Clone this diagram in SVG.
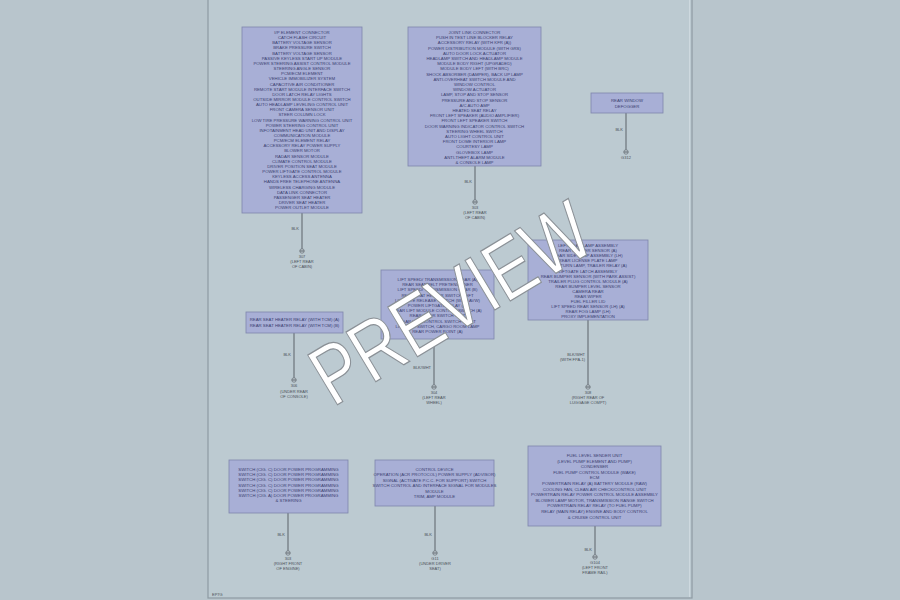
<svg xmlns="http://www.w3.org/2000/svg" width="900" height="600" viewBox="0 0 900 600">
<style>
.box{fill:#a8afd6;stroke:#7e86ad;stroke-width:0.8}
.t{font-family:"Liberation Sans",Arial,sans-serif;font-size:4.3px;fill:#3a4070;text-anchor:middle}
.l{font-family:"Liberation Sans",Arial,sans-serif;font-size:4px;fill:#4a5058;text-anchor:middle}
.lr{font-family:"Liberation Sans",Arial,sans-serif;font-size:4px;fill:#4a5058;text-anchor:end}
.w{stroke:#6c737b;stroke-width:1.2;fill:none}
.term{fill:#c4d0d6;stroke:#6c737b;stroke-width:0.8}
.wm{font-family:"Liberation Sans",Arial,sans-serif;font-size:84px;fill:#ffffff;stroke:#8a9096;stroke-width:1.2;text-anchor:middle}
</style>
<defs>
<g id="tm"><circle class="term" cx="0" cy="0" r="2.2"/><line class="w" x1="-2.2" y1="0" x2="2.2" y2="0" stroke-width="0.6"/></g>
</defs>
<rect x="0" y="0" width="900" height="600" fill="#b8c5cc"/>
<rect x="208" y="-2" width="484" height="600" fill="#bccad1" stroke="#8e9aa2" stroke-width="1.2"/>
<line x1="689.5" y1="0" x2="689.5" y2="597" stroke="#d3dde2" stroke-width="0.8"/>
<text x="212" y="596" class="l" style="text-anchor:start">EP7G</text>

<g id="connectors">
<line class="w" x1="302" y1="213" x2="302" y2="249"/>
<line class="w" x1="475" y1="166" x2="475" y2="200"/>
<line class="w" x1="626" y1="113" x2="626" y2="150"/>
<line class="w" x1="294" y1="333" x2="294" y2="378"/>
<line class="w" x1="434" y1="339" x2="434" y2="385"/>
<line class="w" x1="588" y1="320" x2="588" y2="385"/>
<line class="w" x1="288" y1="513" x2="288" y2="551"/>
<line class="w" x1="435" y1="506" x2="435" y2="551"/>
<line class="w" x1="595" y1="526" x2="595" y2="555"/>
<text class="lr" x="299" y="230">BLK</text>
<text class="lr" x="472" y="183">BLK</text>
<text class="lr" x="623" y="131">BLK</text>
<text class="lr" x="291" y="356">BLK</text>
<text class="lr" x="431" y="369">BLK/WHT</text>
<text class="lr" x="585" y="356">BLK/WHT</text>
<text class="lr" x="585" y="361">(WITH FPA-1)</text>
<text class="lr" x="285" y="536">BLK</text>
<text class="lr" x="432" y="536">BLK</text>
<text class="lr" x="592" y="551">BLK</text>
</g>

<g id="nodeA">
<rect class="box" x="242" y="27" width="120" height="186"/>
<text class="t" x="302" y="34">I/P ELEMENT CONNECTOR</text>
<text class="t" x="302" y="39.1">CATCH FLASH CIRCUIT</text>
<text class="t" x="302" y="44.3">BATTERY VOLTAGE SENSOR</text>
<text class="t" x="302" y="49.4">BRAKE PRESSURE SWITCH</text>
<text class="t" x="302" y="54.6">BATTERY VOLTAGE SENSOR</text>
<text class="t" x="302" y="59.7">PASSIVE KEYLESS START UP MODULE</text>
<text class="t" x="302" y="64.9">POWER STEERING ASSIST CONTROL MODULE</text>
<text class="t" x="302" y="70">STEERING ANGLE SENSOR</text>
<text class="t" x="302" y="75.2">PCM/ECM ELEMENT</text>
<text class="t" x="302" y="80.3">VEHICLE IMMOBILIZER SYSTEM</text>
<text class="t" x="302" y="85.5">CAPACITIVE AIR CONDITIONER</text>
<text class="t" x="302" y="90.6">REMOTE START MODULE INTERFACE SWITCH</text>
<text class="t" x="302" y="95.8">DOOR LATCH RELAY LIGHTS</text>
<text class="t" x="302" y="100.9">OUTSIDE MIRROR MODULE CONTROL SWITCH</text>
<text class="t" x="302" y="106.1">AUTO HEADLAMP LEVELING CONTROL UNIT</text>
<text class="t" x="302" y="111.2">FRONT CAMERA SENSOR UNIT</text>
<text class="t" x="302" y="116.4">STEER COLUMN LOCK</text>
<text class="t" x="302" y="121.5">LOW TIRE PRESSURE WARNING CONTROL UNIT</text>
<text class="t" x="302" y="126.7">POWER STEERING CONTROL UNIT</text>
<text class="t" x="302" y="131.8">INFOTAINMENT HEAD UNIT AND DISPLAY</text>
<text class="t" x="302" y="137">COMMUNICATION MODULE</text>
<text class="t" x="302" y="142.1">PCM/ECM ELEMENT RELAY</text>
<text class="t" x="302" y="147.3">ACCESSORY RELAY POWER SUPPLY</text>
<text class="t" x="302" y="152.4">BLOWER MOTOR</text>
<text class="t" x="302" y="157.6">RADAR SENSOR MODULE</text>
<text class="t" x="302" y="162.7">CLIMATE CONTROL MODULE</text>
<text class="t" x="302" y="167.9">DRIVER POSITION SEAT MODULE</text>
<text class="t" x="302" y="173">POWER LIFTGATE CONTROL MODULE</text>
<text class="t" x="302" y="178.2">KEYLESS ACCESS ANTENNA</text>
<text class="t" x="302" y="183.3">HANDS FREE TELEPHONE ANTENNA</text>
<text class="t" x="302" y="188.5">WIRELESS CHARGING MODULE</text>
<text class="t" x="302" y="193.6">DATA LINK CONNECTOR</text>
<text class="t" x="302" y="198.8">PASSENGER SEAT HEATER</text>
<text class="t" x="302" y="203.9">DRIVER SEAT HEATER</text>
<text class="t" x="302" y="209.1">POWER OUTLET MODULE</text>
<use href="#tm" x="302" y="251"/>
<text class="l" x="302" y="258">307</text>
<text class="l" x="302" y="263">(LEFT REAR</text>
<text class="l" x="302" y="268">OF CABIN)</text>
</g>

<g id="nodeB">
<rect class="box" x="408" y="27" width="133" height="139"/>
<text class="t" x="474.5" y="34">JOINT LINK CONNECTOR</text>
<text class="t" x="474.5" y="39.2">PUSH IN TEST LINE BLOCKER RELAY</text>
<text class="t" x="474.5" y="44.4">ACCESSORY RELAY (WITH KFR (A))</text>
<text class="t" x="474.5" y="49.6">POWER DISTRIBUTION MODULE (WITH GRS)</text>
<text class="t" x="474.5" y="54.8">AUTO DOOR LOCK ACTUATOR</text>
<text class="t" x="474.5" y="60">HEADLAMP SWITCH AND HEADLAMP MODULE</text>
<text class="t" x="474.5" y="65.2">MODULE BODY RIGHT (UPGRADED)</text>
<text class="t" x="474.5" y="70.4">MODULE BODY LEFT (WITH BRC)</text>
<text class="t" x="474.5" y="75.6">SHOCK ABSORBER (DAMPER), BACK UP LAMP</text>
<text class="t" x="474.5" y="80.8">ANTI-OVERHEAT SWITCH MODULE AND</text>
<text class="t" x="474.5" y="86">WINDOW CONTROL</text>
<text class="t" x="474.5" y="91.2">WINDOW ACTUATOR</text>
<text class="t" x="474.5" y="96.4">LAMP, STOP AND STOP SENSOR</text>
<text class="t" x="474.5" y="101.6">PRESSURE AND STOP SENSOR</text>
<text class="t" x="474.5" y="106.8">A/C AUTO AMP</text>
<text class="t" x="474.5" y="112">HEATED SEAT RELAY</text>
<text class="t" x="474.5" y="117.2">FRONT LEFT SPEAKER (AUDIO AMPLIFIER)</text>
<text class="t" x="474.5" y="122.4">FRONT LEFT SPEAKER SWITCH</text>
<text class="t" x="474.5" y="127.6">DOOR WARNING INDICATOR CONTROL SWITCH</text>
<text class="t" x="474.5" y="132.8">STEERING WHEEL SWITCH</text>
<text class="t" x="474.5" y="138">AUTO LIGHT CONTROL UNIT</text>
<text class="t" x="474.5" y="143.2">FRONT DOME INTERIOR LAMP</text>
<text class="t" x="474.5" y="148.4">COURTESY LAMP</text>
<text class="t" x="474.5" y="153.6">GLOVEBOX LAMP</text>
<text class="t" x="474.5" y="158.8">ANTI-THEFT ALARM MODULE</text>
<text class="t" x="474.5" y="164">&amp; CONSOLE LAMP</text>
<use href="#tm" x="475" y="202"/>
<text class="l" x="475" y="209">303</text>
<text class="l" x="475" y="214">(LEFT REAR</text>
<text class="l" x="475" y="219">OF CABIN)</text>
</g>

<g id="nodeC">
<rect class="box" x="591" y="93" width="72" height="20"/>
<text class="t" x="627" y="102">REAR WINDOW</text>
<text class="t" x="627" y="107.5">DEFOGGER</text>
<use href="#tm" x="626" y="152"/>
<text class="l" x="626" y="159">G312</text>
</g>

<g id="nodeD">
<rect class="box" x="246" y="312" width="97" height="21"/>
<text class="t" x="294.5" y="321">REAR SEAT HEATER RELAY (WITH TCM) (A)</text>
<text class="t" x="294.5" y="327">REAR SEAT HEATER RELAY (WITH TCM) (B)</text>
<use href="#tm" x="294" y="380"/>
<text class="l" x="294" y="387">306</text>
<text class="l" x="294" y="392.5">(UNDER REAR</text>
<text class="l" x="294" y="398">OF CONSOLE)</text>
</g>

<g id="nodeE">
<rect class="box" x="381" y="270" width="113" height="69"/>
<text class="t" x="437.5" y="281">LIFT SPEED/ TRANSMISSION GEAR (A)</text>
<text class="t" x="437.5" y="286.2">REAR SEAT BELT PRETENSIONER</text>
<text class="t" x="437.5" y="291.4">LIFT SPEED/ TRANSMISSION GEAR (B)</text>
<text class="t" x="437.5" y="296.6">REAR SEAT HEATER SWITCH LEFT</text>
<text class="t" x="437.5" y="301.8">LIFTGATE RELEASE SWITCH (WITH AVW)</text>
<text class="t" x="437.5" y="307">POWER LIFTGATE RELAY (B)</text>
<text class="t" x="437.5" y="312.2">REAR LIFT MODULE CONTROL SWITCH (A)</text>
<text class="t" x="437.5" y="317.4">REAR DOOR SWITCH LEFT</text>
<text class="t" x="437.5" y="322.6">REAR LIFT CONTROL SWITCH RIGHT</text>
<text class="t" x="437.5" y="327.8">LIFTGATE SWITCH, CARGO ROOM LAMP</text>
<text class="t" x="437.5" y="333">REAR POWER POINT (A)</text>
<use href="#tm" x="434" y="387"/>
<text class="l" x="434" y="394">304</text>
<text class="l" x="434" y="399">(LEFT REAR</text>
<text class="l" x="434" y="404">WHEEL)</text>
</g>

<g id="nodeF">
<rect class="box" x="528" y="240" width="120" height="80"/>
<text class="t" x="588" y="247">LEFT REAR LAMP ASSEMBLY</text>
<text class="t" x="588" y="252.1">REAR BUMPER SENSOR (A)</text>
<text class="t" x="588" y="257.2">REAR SIDE LAMP ASSEMBLY (LH)</text>
<text class="t" x="588" y="262.3">REAR LICENSE PLATE LAMP</text>
<text class="t" x="588" y="267.4">SIDE TURN LAMP, TRAILER RELAY (A)</text>
<text class="t" x="588" y="272.5">LIFTGATE LATCH ASSEMBLY</text>
<text class="t" x="588" y="277.6">REAR BUMPER SENSOR (WITH PARK ASSIST)</text>
<text class="t" x="588" y="282.7">TRAILER PLUG CONTROL MODULE (A)</text>
<text class="t" x="588" y="287.8">REAR BUMPER LEVEL SENSOR</text>
<text class="t" x="588" y="292.9">CAMERA REAR</text>
<text class="t" x="588" y="298">REAR WIPER</text>
<text class="t" x="588" y="303.1">FUEL FILLER LID</text>
<text class="t" x="588" y="308.2">LIFT SPEED REAR SENSOR (LH) (A)</text>
<text class="t" x="588" y="313.3">REAR FOG LAMP (LH)</text>
<text class="t" x="588" y="318.4">PROXY IMPLEMENTATION</text>
<use href="#tm" x="588" y="387"/>
<text class="l" x="588" y="394">308</text>
<text class="l" x="588" y="399">(RIGHT REAR OF</text>
<text class="l" x="588" y="404">LUGGAGE COMPT)</text>
</g>

<g id="nodeG">
<rect class="box" x="229" y="460" width="119" height="53"/>
<text class="t" x="288.5" y="471">SWITCH (CIG. C) DOOR POWER PROGRAMMING</text>
<text class="t" x="288.5" y="476.2">SWITCH (CIG. C) DOOR POWER PROGRAMMING</text>
<text class="t" x="288.5" y="481.4">SWITCH (CIG. C) DOOR POWER PROGRAMMING</text>
<text class="t" x="288.5" y="486.6">SWITCH (CIG. C) DOOR POWER PROGRAMMING</text>
<text class="t" x="288.5" y="491.8">SWITCH (CIG. C) DOOR POWER PROGRAMMING</text>
<text class="t" x="288.5" y="497">SWITCH (CIG. A) DOOR POWER PROGRAMMING</text>
<text class="t" x="288.5" y="502.2">&amp; STEERING</text>
<use href="#tm" x="288" y="553"/>
<text class="l" x="288" y="560">303</text>
<text class="l" x="288" y="565">(RIGHT FRONT</text>
<text class="l" x="288" y="570">OF ENGINE)</text>
</g>

<g id="nodeH">
<rect class="box" x="375" y="460" width="119" height="46"/>
<text class="t" x="434.5" y="471">CONTROL DEVICE</text>
<text class="t" x="434.5" y="476.4">OPERATION (ACR PROTOCOL) POWER SUPPLY (ADVISOR)</text>
<text class="t" x="434.5" y="481.8">SIGNAL (ACTIVATE P.C.C. FOR SUPPORT) SWITCH</text>
<text class="t" x="434.5" y="487.2">SWITCH CONTROL AND INTERFACE SIGNAL FOR MODULES</text>
<text class="t" x="434.5" y="492.6">MODULE</text>
<text class="t" x="434.5" y="498">TRIM, AMP MODULE</text>
<use href="#tm" x="435" y="553"/>
<text class="l" x="435" y="560">G11</text>
<text class="l" x="435" y="565">(UNDER DRIVER</text>
<text class="l" x="435" y="570">SEAT)</text>
</g>

<g id="nodeI">
<rect class="box" x="528" y="446" width="133" height="80"/>
<text class="t" x="594.5" y="457">FUEL LEVEL SENDER UNIT</text>
<text class="t" x="594.5" y="462.6">(LEVEL PUMP ELEMENT AND PUMP)</text>
<text class="t" x="594.5" y="468.2">CONDENSER</text>
<text class="t" x="594.5" y="473.8">FUEL PUMP CONTROL MODULE (WAKE)</text>
<text class="t" x="594.5" y="479.4">ECM</text>
<text class="t" x="594.5" y="485">POWERTRAIN RELAY (A) BATTERY MODULE (RAW)</text>
<text class="t" x="594.5" y="490.6">COOLING FAN, CLEAN AIR CHECK/CONTROL UNIT</text>
<text class="t" x="594.5" y="496.2">POWERTRAIN RELAY POWER CONTROL MODULE ASSEMBLY</text>
<text class="t" x="594.5" y="501.8">BLOWER LAMP MOTOR, TRANSMISSION RANGE SWITCH</text>
<text class="t" x="594.5" y="507.4">POWERTRAIN RELAY RELAY (TO FUEL PUMP)</text>
<text class="t" x="594.5" y="513">RELAY (MAIN RELAY) ENGINE AND BODY CONTROL</text>
<text class="t" x="594.5" y="518.6">&amp; CRUISE CONTROL UNIT</text>
<use href="#tm" x="595" y="557"/>
<text class="l" x="595" y="564">G104</text>
<text class="l" x="595" y="569">(LEFT FRONT</text>
<text class="l" x="595" y="574">FRAME RAIL)</text>
</g>

<g id="watermark" transform="translate(450,302) rotate(-31) scale(0.8,1)">
<text class="wm" x="0" y="30">PREVIEW</text>
</g>
</svg>
